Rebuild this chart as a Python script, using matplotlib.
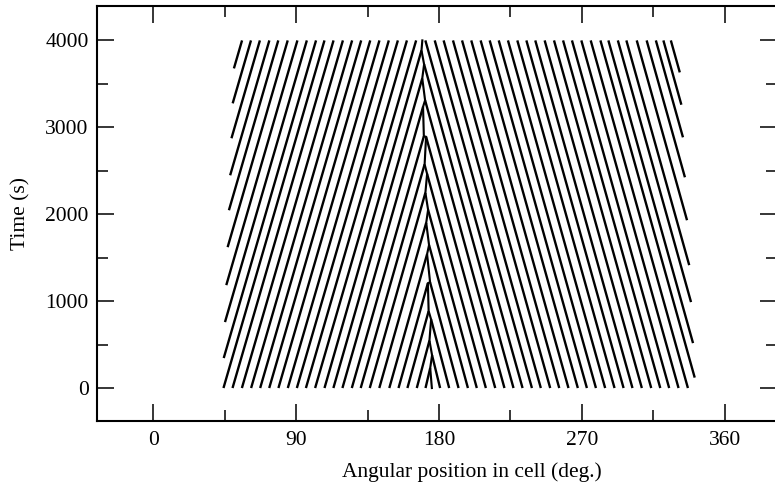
import numpy as np
import matplotlib
matplotlib.use("Agg")
import matplotlib.pyplot as plt
from matplotlib.ticker import MultipleLocator

plt.rcParams['font.family'] = ['Liberation Serif', 'DejaVu Serif']

T_END = 4000.0

# Wave crests already present at t = 0 (angular position, deg)
left_crests_t0 = [44.3, 50.0, 55.9, 61.7, 67.4, 73.1, 78.9, 84.8, 90.5, 96.2,
                  102.0, 107.9, 113.5, 119.2, 125.1, 130.7, 136.4, 142.4,
                  148.7, 154.5, 160.1, 166.0, 171.5]
right_crests_t0 = [180.7, 186.4, 192.3, 198.2, 203.8, 209.5, 215.4, 221.2,
                   226.9, 232.6, 238.5, 244.1, 250.0, 255.7, 261.5, 267.4,
                   273.1, 278.8, 284.6, 290.5, 296.2, 301.8, 307.7, 313.6,
                   319.3, 324.9, 330.8, 336.7]

# Times (s) at which new crests appear at the outer edges of the pattern
left_entry_times = [345, 759, 1184, 1621, 2046, 2448, 2874, 3276, 3678]
right_entry_times = [120, 517, 989, 1414, 1931, 2425, 2885, 3260, 3632]

# Crest drift speeds (deg/s)
left_speed = 0.0159
right_speed = -0.0153

# Outer edges and the sink line where both trains meet: (deg at t=0, deg at t=4000)
left_edge = (43.8, 51.5)
right_edge = (341.3, 330.6)
sink = (175.5, 169.5)


def line_at(edge, t):
    return edge[0] + (edge[1] - edge[0]) * t / T_END


def crest_segment(x0, t0, speed, side):
    ks = (sink[1] - sink[0]) / T_END
    t_hit = (sink[0] - x0 + speed * t0) / (speed - ks)
    t1 = min(t_hit, T_END)
    x1 = x0 + speed * (t1 - t0)
    merged = t_hit <= T_END
    if merged:
        x1 += -0.7 * side
    return (x0, t0), (x1, t1), merged


fig = plt.figure(figsize=(7.75, 4.88), dpi=100)
ax = fig.add_axes([0.1252, 0.1363, 0.877, 0.8514])

lw = 1.7
merge_pts = []
for x0 in left_crests_t0:
    p0, p1, m = crest_segment(x0, 0.0, left_speed, 1)
    ax.plot([p0[0], p1[0]], [p0[1], p1[1]], color='black', lw=lw, solid_capstyle='butt')
    if m:
        merge_pts.append(p1)
for te in left_entry_times:
    p0, p1, m = crest_segment(line_at(left_edge, te), te, left_speed, 1)
    ax.plot([p0[0], p1[0]], [p0[1], p1[1]], color='black', lw=lw, solid_capstyle='butt')
    if m:
        merge_pts.append(p1)
for x0 in right_crests_t0:
    p0, p1, m = crest_segment(x0, 0.0, right_speed, -1)
    ax.plot([p0[0], p1[0]], [p0[1], p1[1]], color='black', lw=lw, solid_capstyle='butt')
    if m:
        merge_pts.append(p1)
for te in right_entry_times:
    p0, p1, m = crest_segment(line_at(right_edge, te), te, right_speed, -1)
    ax.plot([p0[0], p1[0]], [p0[1], p1[1]], color='black', lw=lw, solid_capstyle='butt')
    if m:
        merge_pts.append(p1)

# Sink line joining the points where crests merge
merge_pts.sort(key=lambda p: p[1])
sx = [sink[0]] + [p[0] for p in merge_pts] + [sink[1]]
st = [0.0] + [p[1] for p in merge_pts] + [T_END]
ax.plot(sx, st, color='black', lw=lw * 0.9)

ax.set_xlim(-35.3, 392.6)
ax.set_ylim(-385, 4396)
ax.set_xticks([0, 90, 180, 270, 360])
ax.xaxis.set_minor_locator(MultipleLocator(45))
ax.set_yticks([0, 1000, 2000, 3000, 4000])
ax.yaxis.set_minor_locator(MultipleLocator(500))
ax.tick_params(which='both', direction='in', top=True, right=True,
               labelsize=15.5, width=1.1)
ax.tick_params(axis='x', which='major', length=12, pad=7)
ax.tick_params(axis='y', which='major', length=12, pad=6)
ax.tick_params(which='minor', length=8)
for sp in ax.spines.values():
    sp.set_linewidth(1.5)

ax.set_ylabel('Time (s)', fontsize=15.5)
ax.yaxis.set_label_coords(-0.098, 0.5)
fig.text(472 / 775, 1 - 472 / 488, 'Angular position in cell (deg.)',
         ha='center', va='center', fontsize=15.5)

fig.savefig('out.png', dpi=100)
